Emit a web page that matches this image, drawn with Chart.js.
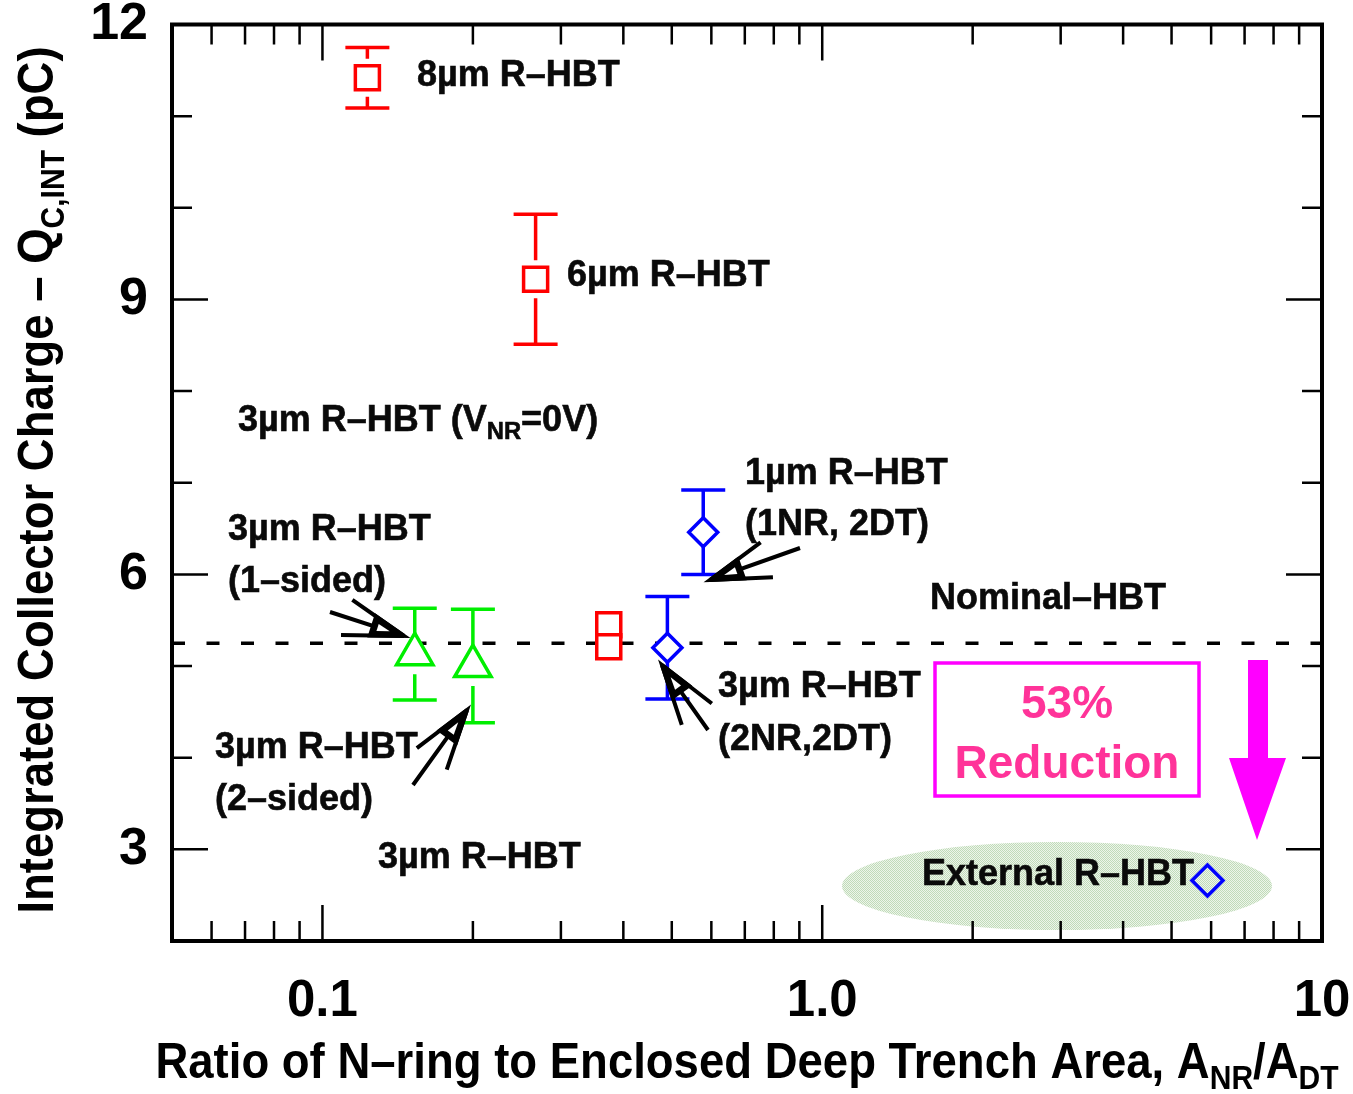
<!DOCTYPE html>
<html>
<head>
<meta charset="utf-8">
<script src="https://cdn.jsdelivr.net/npm/chart.js@4.4.1/dist/chart.umd.min.js"></script>
<style>
  html, body { margin: 0; padding: 0; background: #fff; }
  canvas { display: block; }
</style>
</head>
<body>
<canvas id="chart" width="1353" height="1094"></canvas>
<script>
// Integrated collector charge versus N-ring / deep-trench area ratio

// Axis ticks
const xTickValues = [0.1, 1, 10];
const xTickLabels = ['0.1', '1.0', '10'];
const yTickValues = [3, 6, 9, 12];
const yTickLabels = ['3', '6', '9', '12'];

// Red squares: 8um, 6um and the two 3um (V_NR = 0 V) devices
const redX = [0.123, 0.267, 0.374, 0.374];
const redY = [11.42, 9.22, 5.45, 5.21];
const redErr = [0.33, 0.71, 0, 0];

// Green triangles: 3um R-HBT, 1-sided and 2-sided
const greenX = [0.153, 0.2];
const greenY = [5.13, 5.0];
const greenErr = [0.5, 0.62];

// Blue diamonds: 1um (1NR, 2DT) and 3um (2NR, 2DT)
const blueX = [0.578, 0.49];
const blueY = [6.46, 5.2];
const blueErr = [0.46, 0.56];

// External R-HBT
const extX = [5.9];
const extY = [2.66];

// Nominal-HBT reference level
const nominalX = [0.05, 10];
const nominalY = [5.25, 5.25];

const FAMILY = '"Liberation Sans", Arial, Helvetica, sans-serif';
const boldFont = (size) => `bold ${size}px ${FAMILY}`;
const pts = (xs, ys) => xs.map((v, i) => ({ x: v, y: ys[i] }));

// Text with "_{...}" subscripts
function parseRich(str) {
  const parts = [];
  const re = /_\{([^}]*)\}/g;
  let last = 0, m;
  while ((m = re.exec(str))) {
    if (m.index > last) parts.push({ t: str.slice(last, m.index), sub: false });
    parts.push({ t: m[1], sub: true });
    last = re.lastIndex;
  }
  if (last < str.length) parts.push({ t: str.slice(last), sub: false });
  return parts;
}
function drawRich(ctx, str, x, y, size, align, heavy) {
  const parts = parseRich(str);
  let w = 0;
  for (const p of parts) {
    ctx.font = boldFont(p.sub ? size * 0.66 : size);
    p.w = ctx.measureText(p.t).width;
    w += p.w;
  }
  let cx = align === 'center' ? x - w / 2 : align === 'right' ? x - w : x;
  ctx.textAlign = 'left';
  ctx.textBaseline = 'alphabetic';
  for (const p of parts) {
    ctx.font = boldFont(p.sub ? size * 0.66 : size);
    const py = y + (p.sub ? size * 0.22 : 0);
    ctx.fillText(p.t, cx, py);
    if (heavy) {
      ctx.strokeStyle = ctx.fillStyle;
      ctx.lineWidth = heavy;
      ctx.strokeText(p.t, cx, py);
    }
    cx += p.w;
  }
}

// Device labels: [text, left, baseline]
const notes = [
  ['8µm R–HBT', 417, 86],
  ['6µm R–HBT', 567, 286],
  ['3µm R–HBT (V_{NR}=0V)', 238, 431],
  ['1µm R–HBT', 745, 484],
  ['(1NR, 2DT)', 745, 535],
  ['3µm R–HBT', 228, 540],
  ['(1–sided)', 228, 592],
  ['Nominal–HBT', 930, 609],
  ['3µm R–HBT', 718, 697],
  ['(2NR,2DT)', 718, 750],
  ['3µm R–HBT', 215, 758],
  ['(2–sided)', 215, 810],
  ['3µm R–HBT', 378, 868],
  ['External R–HBT', 922, 885]
];

// Pointer arrows: [tipX, tipY, tailX, tailY]
const pointers = [
  [404, 636, 330, 612],
  [467, 710, 413, 785],
  [710, 580, 800, 548],
  [662, 665, 708, 730]
];

function drawPointer(ctx, tx, ty, sx, sy) {
  const ang = Math.atan2(sy - ty, sx - tx);
  const spread = 17 * Math.PI / 180;
  const barb = 63;
  const head = 34;
  const at = (d, a) => [tx + Math.cos(ang + a) * d, ty + Math.sin(ang + a) * d];
  // shaft and barbs
  ctx.beginPath();
  ctx.moveTo(sx, sy);
  ctx.lineTo(...at(6, 0));
  for (const s of [-1, 1]) {
    ctx.moveTo(tx, ty);
    ctx.lineTo(...at(barb, s * spread));
  }
  ctx.stroke();
  // solid head with a small open core
  ctx.beginPath();
  ctx.moveTo(tx, ty);
  ctx.lineTo(...at(head, spread));
  ctx.lineTo(...at(head, -spread));
  ctx.closePath();
  ctx.fill();
  ctx.stroke();
  ctx.save();
  ctx.fillStyle = '#fff';
  ctx.beginPath();
  ctx.moveTo(...at(15, 0));
  ctx.lineTo(...at(28, 0.13));
  ctx.lineTo(...at(28, -0.13));
  ctx.closePath();
  ctx.fill();
  ctx.restore();
}

function ellipsePattern(ctx) {
  const c = document.createElement('canvas');
  c.width = 2; c.height = 2;
  const g = c.getContext('2d');
  g.fillStyle = '#edf5ea'; g.fillRect(0, 0, 2, 2);
  g.fillStyle = '#c0dbb9'; g.fillRect(0, 0, 1, 1); g.fillRect(1, 1, 1, 1);
  return ctx.createPattern(c, 'repeat');
}

const decor = {
  id: 'decor',
  beforeDatasetsDraw(chart) {
    const { ctx, scales: { x, y } } = chart;
    ctx.save();
    // shaded ellipse around the external device
    ctx.fillStyle = ellipsePattern(ctx);
    ctx.beginPath();
    ctx.ellipse(1057, 886, 215, 44, 0, 0, Math.PI * 2);
    ctx.fill();

    // error bars
    chart.data.datasets.forEach((ds) => {
      if (!ds.errors) return;
      ctx.strokeStyle = ds.borderColor;
      ctx.lineWidth = 3.5;
      ctx.lineCap = 'butt';
      ds.data.forEach((p, j) => {
        const e = ds.errors[j];
        if (!e) return;
        const px = x.getPixelForValue(p.x);
        const py = y.getPixelForValue(p.y);
        const top = y.getPixelForValue(p.y + e);
        const bot = y.getPixelForValue(p.y - e);
        const gap = ds.errGap;
        ctx.beginPath();
        ctx.moveTo(px, top); ctx.lineTo(px, py - gap);
        ctx.moveTo(px, py + gap); ctx.lineTo(px, bot);
        ctx.moveTo(px - 22, top); ctx.lineTo(px + 22, top);
        ctx.moveTo(px - 22, bot); ctx.lineTo(px + 22, bot);
        ctx.stroke();
      });
    });
    ctx.restore();
  },
  afterDatasetsDraw(chart) {
    const { ctx, chartArea: a, scales: { x, y } } = chart;
    ctx.save();
    ctx.strokeStyle = '#000';
    ctx.lineCap = 'butt';

    // inward tick marks on all four sides
    ctx.lineWidth = 2.5;
    const xMarks = [];
    for (let d = -2; d <= 0; d++) {
      for (let m = 1; m <= 9; m++) {
        const v = m * Math.pow(10, d);
        if (v > 0.0501 && v < 9.99) xMarks.push(v);
      }
    }
    ctx.beginPath();
    xMarks.forEach((v) => {
      const px = x.getPixelForValue(v);
      const len = xTickValues.some((t) => Math.abs(t - v) < 1e-9) ? 36 : 20;
      ctx.moveTo(px, a.top); ctx.lineTo(px, a.top + len);
      ctx.moveTo(px, a.bottom); ctx.lineTo(px, a.bottom - len);
    });
    for (let v = 3; v <= 11; v++) {
      const py = y.getPixelForValue(v);
      const len = yTickValues.includes(v) ? 36 : 20;
      ctx.moveTo(a.left, py); ctx.lineTo(a.left + len, py);
      ctx.moveTo(a.right, py); ctx.lineTo(a.right - len, py);
    }
    ctx.stroke();

    // frame
    ctx.lineWidth = 4;
    ctx.strokeRect(a.left, a.top, a.right - a.left, a.bottom - a.top);

    // device labels
    ctx.fillStyle = '#0a0a0a';
    notes.forEach(([t, lx, ly]) => drawRich(ctx, t, lx, ly, 36, 'left', 0.6));

    // pointer arrows
    ctx.strokeStyle = '#000';
    ctx.fillStyle = '#000';
    ctx.lineWidth = 4;
    ctx.lineJoin = 'miter';
    pointers.forEach(([tx, ty, sx, sy]) => drawPointer(ctx, tx, ty, sx, sy));

    // reduction box
    ctx.strokeStyle = '#ff00ff';
    ctx.lineWidth = 3.5;
    ctx.strokeRect(935, 663, 264, 133);
    ctx.fillStyle = '#ff3399';
    drawRich(ctx, '53%', 1067, 718, 46, 'center');
    drawRich(ctx, 'Reduction', 1067, 778, 46, 'center');

    // downward arrow
    ctx.fillStyle = '#ff00ff';
    ctx.beginPath();
    ctx.moveTo(1248, 660); ctx.lineTo(1268, 660); ctx.lineTo(1268, 758);
    ctx.lineTo(1286, 758); ctx.lineTo(1257, 840); ctx.lineTo(1229, 758);
    ctx.lineTo(1248, 758); ctx.closePath();
    ctx.fill();
    ctx.restore();
  },
  afterDraw(chart) {
    const { ctx } = chart;
    ctx.save();
    ctx.fillStyle = '#000';
    // x axis title
    ctx.save();
    ctx.translate(747, 1078);
    ctx.scale(1, 1.1);
    drawRich(ctx, 'Ratio of N–ring to Enclosed Deep Trench Area, A_{NR}/A_{DT}', 0, 0, 45.5, 'center');
    ctx.restore();
    // y axis title
    ctx.save();
    ctx.translate(53, 480);
    ctx.rotate(-Math.PI / 2);
    ctx.scale(1, 1.1);
    drawRich(ctx, 'Integrated Collector Charge – Q_{C,INT} (pC)', 0, 0, 45.5, 'center');
    ctx.restore();
    ctx.restore();
  }
};

new Chart(document.getElementById('chart'), {
  type: 'scatter',
  data: {
    datasets: [
      {
        label: 'Nominal–HBT',
        type: 'line',
        data: pts(nominalX, nominalY),
        borderColor: '#000',
        borderWidth: 3.5,
        borderDash: [13, 21.5],
        pointRadius: 0,
        fill: false,
        order: 5
      },
      {
        label: 'R–HBT',
        data: pts(redX, redY),
        errors: redErr,
        errGap: 19,
        pointStyle: 'rect',
        pointRadius: 17,
        borderColor: '#ff0000',
        backgroundColor: '#ffffff',
        pointBorderWidth: 3.5,
        order: 1
      },
      {
        label: '3µm R–HBT',
        data: pts(greenX, greenY),
        errors: greenErr,
        errGap: 20,
        pointStyle: 'triangle',
        pointRadius: 21,
        borderColor: '#00ee00',
        backgroundColor: '#ffffff',
        pointBorderWidth: 3.5,
        order: 1
      },
      {
        label: 'NR/DT R–HBT',
        data: pts(blueX, blueY),
        errors: blueErr,
        errGap: 14,
        pointStyle: 'rectRot',
        pointRadius: 14.5,
        borderColor: '#0000ff',
        backgroundColor: '#ffffff',
        pointBorderWidth: 3.5,
        order: 1
      },
      {
        label: 'External R–HBT',
        data: pts(extX, extY),
        pointStyle: 'rectRot',
        pointRadius: 15.5,
        borderColor: '#0000ff',
        backgroundColor: 'rgba(0,0,0,0)',
        pointBorderWidth: 3.5,
        order: 1
      }
    ]
  },
  options: {
    responsive: false,
    animation: false,
    devicePixelRatio: 1,
    layout: { padding: { top: 21, right: 31, left: 0, bottom: 0 } },
    plugins: { legend: { display: false }, tooltip: { enabled: false } },
    scales: {
      x: {
        type: 'logarithmic',
        min: 0.05,
        max: 10,
        grid: { display: false, drawTicks: false },
        border: { display: false },
        afterBuildTicks: (s) => { s.ticks = xTickValues.map((v) => ({ value: v })); },
        afterFit: (s) => { s.height = 153; s.paddingLeft = 0; s.paddingRight = 0; },
        ticks: {
          autoSkip: false,
          maxRotation: 0,
          padding: 30,
          color: '#000',
          font: { family: FAMILY, size: 51, weight: 'bold' },
          callback: (v, i) => xTickLabels[i]
        }
      },
      y: {
        type: 'linear',
        min: 2,
        max: 12,
        grid: { display: false, drawTicks: false },
        border: { display: false },
        afterBuildTicks: (s) => { s.ticks = yTickValues.map((v) => ({ value: v })); },
        afterFit: (s) => { s.width = 172; s.paddingTop = 0; s.paddingBottom = 0; },
        ticks: {
          autoSkip: false,
          padding: 24,
          color: '#000',
          font: { family: FAMILY, size: 52, weight: 'bold' },
          callback: (v, i) => yTickLabels[i]
        }
      }
    }
  },
  plugins: [decor]
});
</script>
</body>
</html>
